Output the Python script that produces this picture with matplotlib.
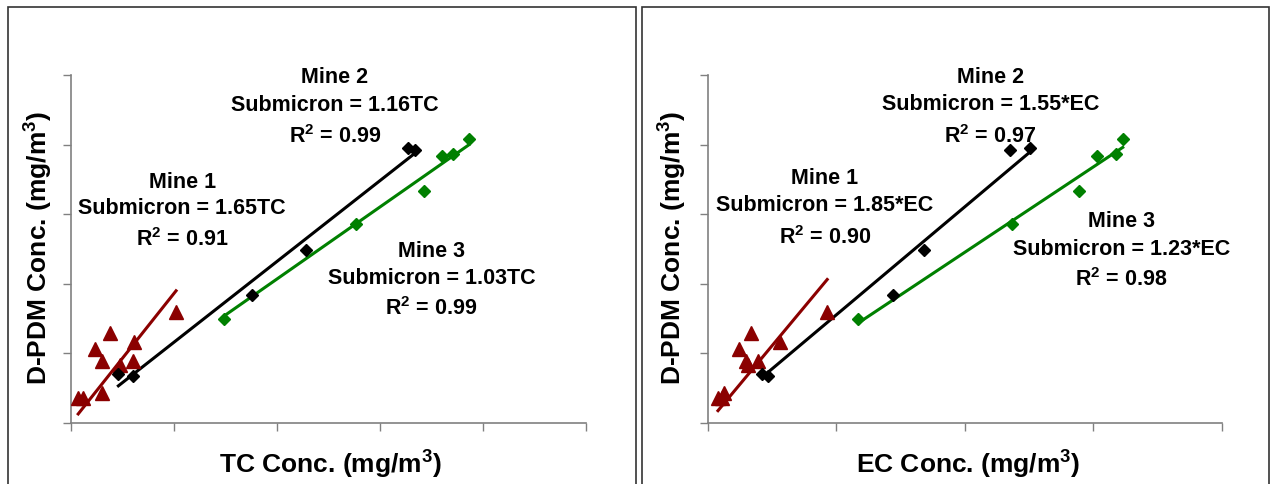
import numpy as np
import matplotlib
matplotlib.use('Agg')
import matplotlib.pyplot as plt
from matplotlib.patches import Rectangle

plt.rcParams['font.family'] = ['Liberation Sans', 'DejaVu Sans']
plt.rcParams['font.weight'] = 'bold'
plt.rcParams['mathtext.fontset'] = 'custom'
plt.rcParams['mathtext.bf'] = 'Liberation Sans:bold'
plt.rcParams['mathtext.rm'] = 'Liberation Sans:bold'
plt.rcParams['mathtext.default'] = 'bf'

# D-PDM vs TC / EC concentrations (mg/m3)
tc_mine1 = [0.007, 0.012, 0.030, 0.023, 0.038, 0.030, 0.048, 0.060, 0.061, 0.102]
ec_mine1 = [0.008, 0.011, 0.013, 0.024, 0.034, 0.030, 0.031, 0.039, 0.056, 0.093]
pdm_mine1 = [0.036, 0.036, 0.043, 0.107, 0.129, 0.089, 0.083, 0.089, 0.117, 0.159]

tc_mine2 = [0.046, 0.060, 0.176, 0.228, 0.327, 0.334]
ec_mine2 = [0.042, 0.047, 0.144, 0.168, 0.251, 0.235]
pdm_mine2 = [0.071, 0.067, 0.184, 0.249, 0.395, 0.392]

tc_mine3 = [0.149, 0.277, 0.343, 0.360, 0.371, 0.386]
ec_mine3 = [0.117, 0.237, 0.289, 0.303, 0.318, 0.323]
pdm_mine3 = [0.150, 0.286, 0.333, 0.383, 0.387, 0.408]

labels_tc = {
    'Mine 1': ['Submicron = 1.65TC', 'R$^{2}$ = 0.91'],
    'Mine 2': ['Submicron = 1.16TC', 'R$^{2}$ = 0.99'],
    'Mine 3': ['Submicron = 1.03TC', 'R$^{2}$ = 0.99'],
}
labels_ec = {
    'Mine 1': ['Submicron = 1.85*EC', 'R$^{2}$ = 0.90'],
    'Mine 2': ['Submicron = 1.55*EC', 'R$^{2}$ = 0.97'],
    'Mine 3': ['Submicron = 1.23*EC', 'R$^{2}$ = 0.98'],
}

RED = '#8b0000'
GREEN = '#008000'

W, H = 1275, 484
fig = plt.figure(figsize=(W / 100, H / 100), dpi=100)


def fx(px):
    return px / W


def fy(py):
    return 1 - py / H


# panel frames
for x0, x1 in [(8, 635.5), (641.5, 1269)]:
    fig.add_artist(Rectangle((fx(x0), -0.1), fx(x1) - fx(x0), fy(7) + 0.1,
                             transform=fig.transFigure, fill=False,
                             edgecolor='#333333', linewidth=1.2))


def through_origin(ax, x, y, color):
    x = np.array(x)
    y = np.array(y)
    k = np.sum(x * y) / np.sum(x * x)
    xs = np.array([x.min(), x.max()])
    ax.plot(xs, k * xs, color=color, linewidth=2.2, zorder=2)


def panel(rect, xmax, xs, labels, label_pos, xlabel, xlab_px, ylab_px):
    ax = fig.add_axes(rect)
    x1, x2, x3 = xs
    through_origin(ax, x1, pdm_mine1, RED)
    through_origin(ax, x2, pdm_mine2, 'black')
    through_origin(ax, x3, pdm_mine3, GREEN)
    ax.plot(x1, pdm_mine1, '^', color=RED, markersize=10.5, zorder=3)
    ax.plot(x2, pdm_mine2, 'D', color='black', markersize=6.5, zorder=3)
    ax.plot(x3, pdm_mine3, 'D', color=GREEN, markersize=6.5, zorder=3)

    ax.set_xlim(0, xmax)
    ax.set_ylim(0, 0.5)
    ax.set_xticks(np.arange(0, xmax + 0.001, 0.1))
    ax.set_yticks(np.arange(0, 0.501, 0.1))
    ax.set_xticklabels([])
    ax.set_yticklabels([])
    ax.tick_params(direction='out', length=6, width=1, color='#808080')
    for s in ['top', 'right']:
        ax.spines[s].set_visible(False)
    for s in ['left', 'bottom']:
        ax.spines[s].set_color('#808080')
        ax.spines[s].set_linewidth(1.2)
    ax.patch.set_alpha(0)

    for name, (tx, ty) in label_pos.items():
        lines = [name] + labels[name]
        for i, line in enumerate(lines):
            ax.text(tx, ty[i], line, ha='center', va='center',
                    fontsize=15.5, fontweight='bold', clip_on=False)

    fig.text(fx(xlab_px[0]), fy(xlab_px[1]), xlabel, ha='center', va='center',
             fontsize=19, fontweight='bold')
    fig.text(fx(ylab_px[0]), fy(ylab_px[1]), 'D-PDM Conc. (mg/m$^{3}$)', ha='center',
             va='center', rotation=90, fontsize=19, fontweight='bold')
    return ax


bottom = fy(423)
height = 348 / H

panel([fx(71), bottom, 515 / W, height], 0.5,
      (tc_mine1, tc_mine2, tc_mine3), labels_tc,
      {'Mine 1': (0.108, [0.346, 0.308, 0.263]),
       'Mine 2': (0.256, [0.496, 0.456, 0.411]),
       'Mine 3': (0.350, [0.246, 0.207, 0.164])},
      'TC Conc. (mg/m$^{3}$)', (330, 465), (39, 248))

panel([fx(707.7), bottom, 514 / W, height], 0.4,
      (ec_mine1, ec_mine2, ec_mine3), labels_ec,
      {'Mine 1': (0.091, [0.352, 0.312, 0.267]),
       'Mine 2': (0.220, [0.497, 0.457, 0.412]),
       'Mine 3': (0.322, [0.289, 0.249, 0.206])},
      'EC Conc. (mg/m$^{3}$)', (968, 465), (672.6, 248))

fig.savefig('out.png', dpi=100)
